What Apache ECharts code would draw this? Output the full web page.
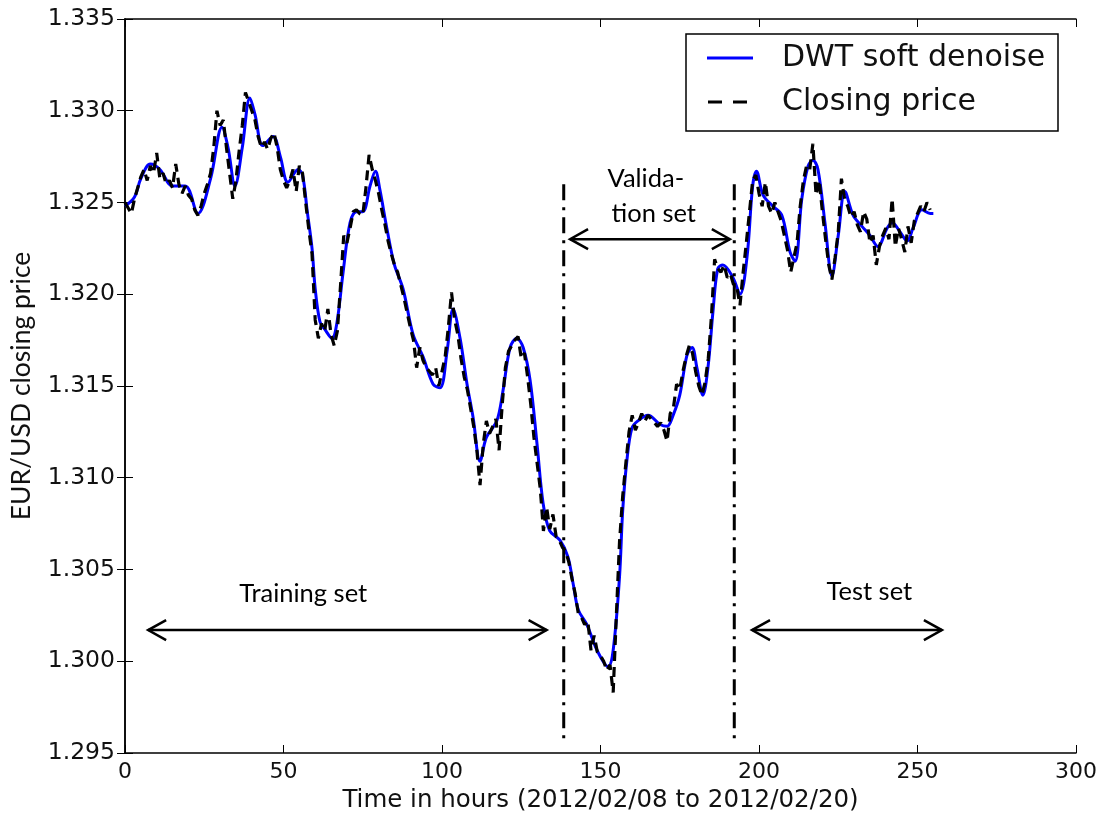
<!DOCTYPE html>
<html>
<head>
<meta charset="utf-8">
<script src="https://cdn.jsdelivr.net/npm/echarts@6/dist/echarts.min.js"></script>
<style>
  html, body { margin: 0; padding: 0; background: #fff; }
  #chart { width: 1101px; height: 818px; }
</style>
</head>
<body>
<div id="chart"></div>
<script>
// Hourly EUR/USD closing price, hours 0..254
const closeHours = [];
const closePrice = [
  1.3250, 1.3247, 1.3244, 1.3252, 1.3258, 1.3264, 1.3268, 1.3262, 1.3270, 1.3266,
  1.3277, 1.3263, 1.3266, 1.3260, 1.3262, 1.3258, 1.3271, 1.3260, 1.3255, 1.3259,
  1.3254, 1.3252, 1.3246, 1.3243, 1.3248, 1.3255, 1.3260, 1.3266, 1.3280, 1.3300,
  1.3292, 1.3295, 1.3280, 1.3266, 1.3252, 1.3262, 1.3278, 1.3292, 1.3310, 1.3305,
  1.3300, 1.3295, 1.3286, 1.3280, 1.3283, 1.3279, 1.3285, 1.3288, 1.3280, 1.3268,
  1.3262, 1.3258, 1.3262, 1.3268, 1.3256, 1.3270, 1.3266, 1.3250, 1.3235, 1.3222,
  1.3186, 1.3176, 1.3184, 1.3180, 1.3192, 1.3178, 1.3172, 1.3180, 1.3205, 1.3232,
  1.3228, 1.3236, 1.3245, 1.3246, 1.3244, 1.3243, 1.3258, 1.3276, 1.3268, 1.3262,
  1.3255, 1.3246, 1.3238, 1.3229, 1.3222, 1.3216, 1.3212, 1.3205, 1.3198, 1.3190,
  1.3182, 1.3175, 1.3160, 1.3171, 1.3164, 1.3160, 1.3158, 1.3156, 1.3160, 1.3150,
  1.3158, 1.3166, 1.3182, 1.3201, 1.3186, 1.3178, 1.3165, 1.3155, 1.3148, 1.3138,
  1.3128, 1.3115, 1.3096, 1.3118, 1.3131, 1.3124, 1.3128, 1.3132, 1.3115, 1.3140,
  1.3160, 1.3169, 1.3172, 1.3175, 1.3177, 1.3165, 1.3168, 1.3155, 1.3140, 1.3122,
  1.3108, 1.3094, 1.3071, 1.3084, 1.3072, 1.3080, 1.3068, 1.3066, 1.3062, 1.3060,
  1.3054, 1.3045, 1.3037, 1.3026, 1.3024, 1.3020, 1.3022, 1.3006, 1.3014, 1.3005,
  1.3003, 1.3000, 1.2995, 1.2998, 1.2983, 1.3025, 1.3065, 1.3090, 1.3108, 1.3125,
  1.3134, 1.3126, 1.3130, 1.3135, 1.3131, 1.3134, 1.3132, 1.3130, 1.3128, 1.3130,
  1.3126, 1.3120, 1.3135, 1.3138, 1.3151, 1.3148, 1.3158, 1.3166, 1.3172, 1.3168,
  1.3158, 1.3150, 1.3145, 1.3152, 1.3165, 1.3188, 1.3219, 1.3214, 1.3212, 1.3216,
  1.3209, 1.3211, 1.3205, 1.3204, 1.3194, 1.3212, 1.3228, 1.3245, 1.3262, 1.3265,
  1.3255, 1.3248, 1.3261, 1.3248, 1.3244, 1.3250, 1.3245, 1.3240, 1.3232, 1.3224,
  1.3212, 1.3220, 1.3228, 1.3248, 1.3262, 1.3270, 1.3268, 1.3282, 1.3254, 1.3262,
  1.3245, 1.3230, 1.3216, 1.3208, 1.3220, 1.3234, 1.3263, 1.3252, 1.3248, 1.3242,
  1.3245, 1.3238, 1.3234, 1.3245, 1.3241, 1.3228, 1.3232, 1.3216, 1.3226, 1.3232,
  1.3236, 1.3230, 1.3252, 1.3226, 1.3236, 1.3230, 1.3223, 1.3237, 1.3228, 1.3240,
  1.3244, 1.3248, 1.3245, 1.3250, 1.3246
];
for (let i = 0; i < closePrice.length; i++) closeHours.push(i);

// Wavelet (DWT, soft threshold) denoised curve
const dwtHours = [
  0, 3, 5, 8, 11, 15, 19, 23, 27, 30.6, 32.5, 34.7, 37, 39.4, 41, 43.5, 46.7, 49, 51.4, 54.6,
  56, 57.5, 59, 60, 61.5, 63, 65.3, 66.9, 68.8, 71, 73, 75, 77.3, 79, 80.4, 82.6, 85, 87.7, 90.9, 94,
  97.2, 99.4, 101.6, 103.5, 105.7, 107.9, 109.8, 112, 114, 117.3, 119.2, 121.5, 123.6, 125.6, 127.8, 130, 131.9, 134, 137.2, 139.7,
  141.4, 143, 145.7, 148.9, 152.4, 154, 156, 157, 158.3, 159.9, 161.8, 165, 168.8, 171, 172.9, 175, 177.3, 178.9, 180.4, 182.3,
  183.9, 185.5, 187, 188.6, 191.8, 194, 196.2, 198, 199.2, 201.3, 204.4, 207.2, 209.8, 211.4, 213.5, 215.5, 217, 218.6, 220.8, 223,
  225, 227.1, 229.7, 232.5, 235, 237.5, 240.4, 242, 244.5, 246.7, 248.6, 251.4, 254, 255
];
const dwtPrice = [
  1.3248, 1.3253, 1.3263, 1.3271, 1.3268, 1.3259, 1.3259, 1.3244, 1.3263, 1.3291, 1.3280, 1.3259, 1.3280, 1.3307, 1.3298, 1.3281, 1.3286, 1.3275, 1.3261, 1.3268,
  1.3265, 1.3245, 1.3225, 1.3203, 1.3185, 1.3181, 1.3176, 1.3185, 1.3212, 1.3239, 1.3245, 1.3245, 1.3259, 1.3267, 1.3257, 1.3236, 1.3216, 1.3203, 1.3178, 1.3166,
  1.3151, 1.3149, 1.3169, 1.3192, 1.3176, 1.3151, 1.3133, 1.3109, 1.3122, 1.3131, 1.3147, 1.3171, 1.3176, 1.3171, 1.3153, 1.3118, 1.3086, 1.3071, 1.3066, 1.3057,
  1.3042, 1.3028, 1.3020, 1.3006, 1.2997, 1.3006, 1.3046, 1.3082, 1.3109, 1.3127, 1.3131, 1.3134, 1.3129, 1.3128, 1.3134, 1.3145, 1.3167, 1.3171, 1.3160, 1.3145,
  1.3160, 1.3191, 1.3214, 1.3216, 1.3209, 1.3200, 1.3220, 1.3259, 1.3267, 1.3254, 1.3248, 1.3243, 1.3223, 1.3218, 1.3252, 1.3270, 1.3273, 1.3268, 1.3239, 1.3210,
  1.3232, 1.3256, 1.3243, 1.3237, 1.3232, 1.3226, 1.3236, 1.3239, 1.3234, 1.3229, 1.3236, 1.3246, 1.3244, 1.3244
];

// Axis ticks
const xTicks = [0, 50, 100, 150, 200, 250, 300];
const yTicks = [1.295, 1.300, 1.305, 1.310, 1.315, 1.320, 1.325, 1.330, 1.335];

// Data split boundaries (hours) and set annotations
const splitHours = [138.4, 192.2];
const setArrows = [
  { from: [7.3, 1.3017], to: [133.0, 1.3017] },
  { from: [140.4, 1.3230], to: [190.8, 1.3230] },
  { from: [197.8, 1.3017], to: [257.7, 1.3017] }
];
const setLabels = [
  { text: 'Training set', at: [56.2, 1.3037] },
  { text: 'Valida-', at: [164.3, 1.3263] },
  { text: 'tion set', at: [166.8, 1.3244] },
  { text: 'Test set', at: [234.8, 1.3038] }
];
const legendItems = ['DWT soft denoise', 'Closing price'];

const chart = echarts.init(document.getElementById('chart'), null, { renderer: 'canvas' });

const annoFont = 'Lato, "Open Sans", sans-serif';
const tickStyle = { lineStyle: { color: '#000', width: 1 } };
const baseAxisLine = { show: true, lineStyle: { color: '#000', width: 1.5 } };

chart.setOption({
  animation: false,
  backgroundColor: '#fff',
  grid: { left: 125, top: 19, right: 25, bottom: 61, containLabel: false },
  xAxis: [
    {
      type: 'value', min: 0, max: 300, interval: 50,
      axisLine: baseAxisLine,
      axisTick: Object.assign({ inside: true, length: 8 }, tickStyle),
      axisLabel: { margin: 8, fontFamily: 'DejaVu Sans', fontSize: 22, color: '#111' },
      splitLine: { show: false },
      name: 'Time in hours (2012/02/08 to 2012/02/20)',
      nameLocation: 'middle', nameGap: 35,
      nameTextStyle: { fontFamily: 'DejaVu Sans', fontSize: 24.5, color: '#111' }
    },
    {
      type: 'value', min: 0, max: 300, interval: 50, position: 'top',
      axisLine: baseAxisLine,
      axisTick: Object.assign({ inside: true, length: 8 }, tickStyle),
      axisLabel: { show: false }, splitLine: { show: false }
    }
  ],
  yAxis: [
    {
      type: 'value', min: 1.295, max: 1.335, interval: 0.005,
      axisLine: baseAxisLine,
      axisTick: Object.assign({ inside: true, length: 8 }, tickStyle),
      axisLabel: { margin: 10, formatter: v => v.toFixed(3), fontFamily: 'DejaVu Sans', fontSize: 23.5, color: '#111' },
      splitLine: { show: false },
      name: 'EUR/USD closing price',
      nameLocation: 'middle', nameGap: 90, nameRotate: 90,
      nameTextStyle: { fontFamily: annoFont, fontSize: 26.5, color: '#111' }
    },
    {
      type: 'value', min: 1.295, max: 1.335, interval: 0.005, position: 'right',
      axisLine: baseAxisLine,
      axisTick: Object.assign({ inside: true, length: 8 }, tickStyle),
      axisLabel: { show: false }, splitLine: { show: false }
    }
  ],
  series: [
    {
      name: legendItems[0], type: 'line', xAxisIndex: 0, yAxisIndex: 0,
      data: dwtHours.map((h, i) => [h, dwtPrice[i]]),
      showSymbol: false, smooth: 0.35,
      lineStyle: { color: '#0000ff', width: 3 }, z: 2
    },
    {
      name: legendItems[1], type: 'line', xAxisIndex: 0, yAxisIndex: 0,
      data: closeHours.map((h, i) => [h, closePrice[i]]),
      showSymbol: false,
      lineStyle: { color: '#000', width: 3.2, type: [10, 6] }, z: 3
    }
  ]
});

// Annotations placed through the grid's own coordinate conversion
function px(pt) { return chart.convertToPixel({ gridIndex: 0 }, pt); }

const g = [];
const lineColor = '#000';

splitHours.forEach(h => {
  const top = px([h, 1.3260]);
  const bot = px([h, 1.2956]);
  g.push({
    type: 'line', z: 10,
    shape: { x1: top[0], y1: top[1], x2: bot[0], y2: bot[1] },
    style: { stroke: lineColor, lineWidth: 3, lineDash: [16, 7, 3, 7] }
  });
});

setArrows.forEach(a => {
  const p1 = px(a.from), p2 = px(a.to);
  const head = 18, half = 10;
  g.push({ type: 'line', z: 10, shape: { x1: p1[0], y1: p1[1], x2: p2[0], y2: p2[1] },
           style: { stroke: lineColor, lineWidth: 2.5 } });
  g.push({ type: 'polyline', z: 10,
           shape: { points: [[p1[0] + head, p1[1] - half], [p1[0], p1[1]], [p1[0] + head, p1[1] + half]] },
           style: { stroke: lineColor, lineWidth: 2.5, fill: null } });
  g.push({ type: 'polyline', z: 10,
           shape: { points: [[p2[0] - head, p2[1] - half], [p2[0], p2[1]], [p2[0] - head, p2[1] + half]] },
           style: { stroke: lineColor, lineWidth: 2.5, fill: null } });
});

setLabels.forEach(l => {
  const p = px(l.at);
  g.push({ type: 'text', z: 11, x: p[0], y: p[1],
           style: { text: l.text, fontFamily: annoFont, fontSize: 25.5,
                    fill: '#000', align: 'center', verticalAlign: 'middle' } });
});

// Legend box
const lx = 686, ly = 34, lw = 372, lh = 97;
g.push({ type: 'rect', z: 12, shape: { x: lx, y: ly, width: lw, height: lh },
         style: { fill: '#fff', stroke: '#000', lineWidth: 1.5 } });
g.push({ type: 'line', z: 13, shape: { x1: lx + 21, y1: ly + 24, x2: lx + 67, y2: ly + 24 },
         style: { stroke: '#0000ff', lineWidth: 3 } });
g.push({ type: 'line', z: 13, shape: { x1: lx + 22, y1: ly + 68, x2: lx + 61, y2: ly + 68 },
         style: { stroke: '#000', lineWidth: 3.2, lineDash: [14, 11] } });
legendItems.forEach((t, i) => {
  g.push({ type: 'text', z: 13, x: lx + 96, y: ly + 24 + i * 44,
           style: { text: t, fontFamily: 'DejaVu Sans', fontSize: 30, fill: '#111',
                    align: 'left', verticalAlign: 'middle' } });
});

chart.setOption({ graphic: g });
</script>
</body>
</html>
